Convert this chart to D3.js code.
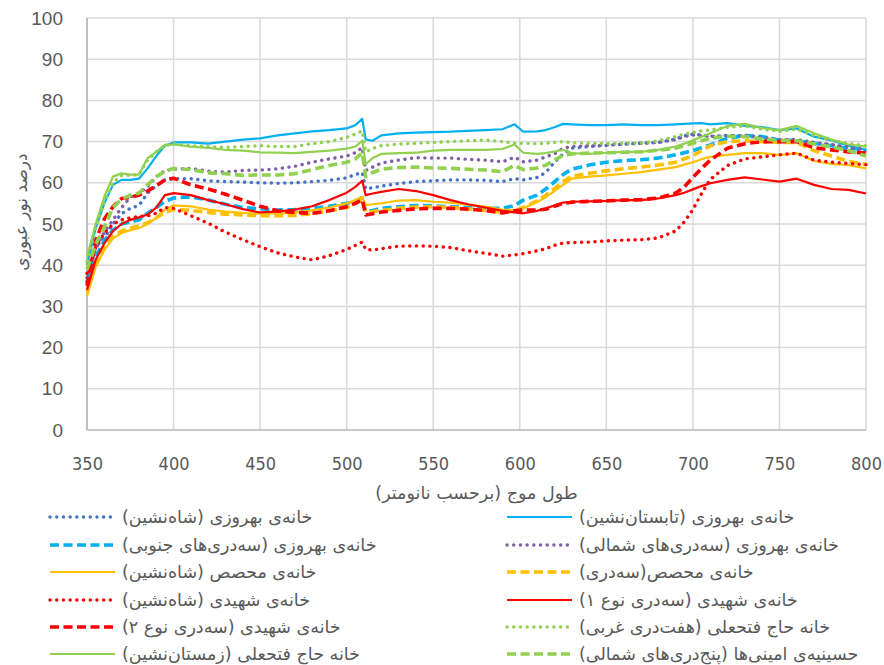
<!DOCTYPE html>
<html>
<head>
<meta charset="utf-8">
<script src="https://cdn.jsdelivr.net/npm/d3@7"></script>
<style>
  body { margin: 0; background: #fff; }
  svg { display: block; }
</style>
</head>
<body>
<div id="chart"></div>
<script>
// wavelengths (nm)
var wavelengths = [350,355,360,365,370,375,380,385,390,395,400,410,420,430,440,450,460,470,480,490,500,505,509,511,515,520,530,540,550,560,570,580,590,597,602,610,615,620,625,630,640,650,660,670,680,690,695,700,705,710,720,730,740,750,760,770,780,790,800];

var xTicks = [350,400,450,500,550,600,650,700,750,800];
var yTicks = [0,10,20,30,40,50,60,70,80,90,100];

var xTitle = "طول موج (برحسب نانومتر)";
var yTitle = "درصد نور عبوری";

var names = [
  "خانه‌ی بهروزی (شاه‌نشین)",
  "خانه‌ی بهروزی (تابستان‌نشین)",
  "خانه‌ی بهروزی (سه‌دری‌های جنوبی)",
  "خانه‌ی بهروزی (سه‌دری‌های شمالی)",
  "خانه‌ی محصص (شاه‌نشین)",
  "خانه‌ی محصص(سه‌دری)",
  "خانه‌ی شهیدی (شاه‌نشین)",
  "خانه‌ی شهیدی (سه‌دری نوع ۱)",
  "خانه‌ی شهیدی (سه‌دری نوع ۲)",
  "خانه حاج فتحعلی (هفت‌دری غربی)",
  "خانه حاج فتحعلی (زمستان‌نشین)",
  "حسینیه‌ی امینی‌ها (پنج‌دری‌های شمالی)"
];

var behrooziShah = [36,44.5,46.5,50,52.5,53.8,54.5,57.5,59.3,60.7,61,61,60.5,60.3,60.2,60,59.9,60,60.3,60.6,61.2,62,62.5,58.5,58.8,59.2,59.8,60.3,60.5,60.7,60.7,60.6,60.3,61,60.7,61.3,62.5,65,67,68.4,68.8,69.1,69.4,69.6,69.8,70.6,71.4,71.8,71.6,71.3,71.5,71.4,70.9,70.4,70.3,69.7,69.2,68.4,67.8];
var behrooziTabestan = [40,49,55,59.5,60.7,60.7,61,63.5,66.5,69,69.8,69.8,69.5,70,70.5,70.8,71.5,72,72.5,72.8,73.2,74,75.5,70.5,70.2,71.5,72,72.2,72.3,72.4,72.6,72.8,73,74.2,72.4,72.5,72.8,73.5,74.3,74.2,74,74,74.2,74,74,74.2,74.3,74.4,74.5,74.2,74.5,73.8,73.5,72.8,73.2,71.2,70.3,69,68];
var behrooziJanubi = [36,42,46,48.5,50,50.5,51,52.6,54,55.5,56.3,56.6,55.8,54.8,54,53.7,53.4,53.5,53.8,54.3,55,55.6,56.4,53,53.3,53.8,54.2,54.5,54.4,54.2,54,53.8,53.8,54.5,55.8,57,58.5,60.2,62,63.3,64.3,65,65.4,65.6,66,66.8,67.3,67.8,68.5,69.2,70.8,71.5,71.2,70.4,70.2,69.6,69,68.2,68.4];
var behrooziShomali = [37,44,48,51,54,56.5,57.5,59,61.5,63,63.3,63.5,62.8,62.6,63,63.1,63.4,64,65,65.8,66.5,67.3,68.5,63,63.8,64.8,65.5,66.1,66,66,65.7,65.5,65.1,66.2,65.1,65.5,66.3,67,68.4,68.8,69,69.2,69.4,69.6,69.8,70.5,71.2,71.6,71.5,71.2,71.4,71.5,71,70.5,70.5,69.8,69.3,68.6,68];
var mohassesShah = [32.5,39.6,43.7,46.5,47.8,48.5,49,50,51.5,53.5,54.5,54.3,53.5,53,52.7,52.5,52.6,52.8,53.3,54,55,55.8,56.6,54.6,54.8,55,55.7,55.8,55.4,55.2,54.7,54.2,53.5,53.4,53.8,55.3,56.5,58,59.5,61,61.5,61.8,62.2,62.6,63.2,63.8,64.4,65,65.7,66.3,66.8,67.2,67.2,66.7,67.2,65.3,64.6,64.3,63.5];
var mohassesSedari = [33.5,40,44,47,48.3,49,49.5,50.3,51.5,52.8,53.5,53.3,52.8,52.4,52.2,52,52,52.1,52.5,53.2,54,55,56,52.8,53,53.3,53.8,54.1,54.2,54,53.7,53.3,52.8,53.2,54,55.6,57,58.6,60.3,61.6,62.3,62.9,63.4,63.8,64.3,65,65.8,66.6,67.8,69,70,70.2,70,69.8,69.8,67.8,66.5,65.2,64.5];
var shahidiShah = [38,44.5,47.8,50,51,51.5,51.8,52,52.6,54,53.8,52,50.2,48,46.2,44.5,43,42,41.3,42.3,43.8,44.8,45.6,43.8,43.7,44,44.6,44.7,44.6,44.3,43.5,42.9,42.2,42.5,42.8,43.5,44,44.8,45.4,45.5,45.6,45.9,46.1,46.2,46.6,48.3,50.5,53.5,57.4,60.8,64.2,65.8,66.3,66.8,67.2,65.5,65,64.7,64.4];
var shahidiSedari1 = [34,41.3,45.3,48.3,50,51,51.6,52.3,54,57,57.5,57,55.8,54.8,53.6,52.8,53,53.5,54.3,55.8,57.6,59,60.5,57,57.4,57.8,58.5,58,57,55.8,54.8,54,53.2,52.8,52.6,53.2,53.8,54.5,55.2,55.4,55.5,55.6,55.8,55.8,56.2,57,57.6,58.4,59.2,59.9,60.7,61.3,60.8,60.3,61,59.5,58.5,58.3,57.4];
var shahidiSedari2 = [35,46,51.2,54.2,56.2,56.5,57,58,59.3,60.7,61.1,59.5,58.5,57.2,55.8,54.3,53.2,52.8,52.6,53.2,54.2,55,55.9,52.2,52.5,52.9,53.3,53.7,53.8,53.8,53.6,53.3,52.7,53.2,53.4,53.4,53.6,54.3,55,55.3,55.5,55.6,55.8,55.9,56.3,57.5,59,61.3,63.5,65.5,68.4,69.5,70,70,70,68.5,68,67.5,67.2];
var hajHaftdari = [41,49,55.5,60,61.8,61.8,62,65.5,67.5,69,69.5,69,68.8,68.6,68.8,69,68.8,68.8,69.5,70,71,71.8,72.6,67.5,68.3,69,69.4,69.6,69.8,70,70.2,70.4,70,69.6,69.6,69.5,69.6,69.8,70,69.7,69.6,69.5,69.6,69.6,70.2,71.2,71.8,72.2,72.6,72.8,73.5,73.8,73,72.5,73,71.5,70.3,69.5,69];
var hajZemestan = [42,50,56.6,61.5,62.3,62,62,66,67.5,69.2,69.3,68.8,68.5,68,67.8,67.4,67.3,67.2,67.5,67.8,68.3,68.8,70.2,64.5,66,67,67.2,67.3,67.8,68,68,68,68.2,69.3,67.3,67,67.2,67.6,68,67.2,67,67.3,67.5,67.5,68,68.8,69.5,70.3,71.2,72,73.8,74.3,73.3,72.8,73.8,72,70.5,69.3,68.8];
var aminiPanjdari = [39,45,49.3,54,56,57,57.5,59.5,61.5,62.8,63.5,63.2,62.4,62.2,61.8,61.9,61.9,62.2,63.2,64.2,65,65.8,67.3,61.5,62.5,63.3,63.7,63.8,63.6,63.5,63.3,63.1,62.7,64.2,63.2,63.6,64.3,65.5,66.7,67,67.2,67.3,67.4,67.5,67.9,68.4,69,69.6,70.2,70.8,71.3,71.2,70.6,70.3,70.2,69.5,68.7,67.8,66.5];

var seriesValues = [behrooziShah, behrooziTabestan, behrooziJanubi, behrooziShomali,
  mohassesShah, mohassesSedari, shahidiShah, shahidiSedari1, shahidiSedari2,
  hajHaftdari, hajZemestan, aminiPanjdari];

// line styles per series
var styles = [
  {color: "#4472C4", kind: "dot"},
  {color: "#00B0F0", kind: "solid"},
  {color: "#00B0F0", kind: "dash"},
  {color: "#7E5FA8", kind: "dot"},
  {color: "#FFC000", kind: "solid"},
  {color: "#FFC000", kind: "dash"},
  {color: "#FF0000", kind: "dot"},
  {color: "#FF0000", kind: "solid"},
  {color: "#FF0000", kind: "dash"},
  {color: "#92D050", kind: "dot"},
  {color: "#92D050", kind: "solid"},
  {color: "#92D050", kind: "dash"}
];

var svgWidth = 884, svgHeight = 665;
var margin = {top: 18, right: 18, bottom: 235, left: 87};
var width = svgWidth - margin.left - margin.right;
var height = svgHeight - margin.top - margin.bottom;

var svg = d3.select("#chart").append("svg")
  .attr("width", svgWidth)
  .attr("height", svgHeight);

var g = svg.append("g")
  .attr("transform", "translate(" + margin.left + "," + margin.top + ")");

var x = d3.scaleLinear().domain([350, 800]).range([0, width]);
var y = d3.scaleLinear().domain([0, 100]).range([height, 0]);

// gridlines
g.append("g")
  .selectAll("line.h")
  .data(yTicks)
  .enter().append("line")
    .attr("x1", 0).attr("x2", width)
    .attr("y1", d => y(d)).attr("y2", d => y(d))
    .attr("stroke", "#D9D9D9").attr("stroke-width", 1.5);

g.append("g")
  .selectAll("line.v")
  .data(xTicks)
  .enter().append("line")
    .attr("x1", d => x(d)).attr("x2", d => x(d))
    .attr("y1", 0).attr("y2", height)
    .attr("stroke", "#D9D9D9").attr("stroke-width", 1.5);

// axis lines
g.append("line")
  .attr("x1", 0).attr("x2", 0).attr("y1", 0).attr("y2", height)
  .attr("stroke", "#BFBFBF").attr("stroke-width", 2);
g.append("line")
  .attr("x1", 0).attr("x2", width).attr("y1", height).attr("y2", height)
  .attr("stroke", "#BFBFBF").attr("stroke-width", 1.5);

// tick labels via d3 axes
var yAxis = g.append("g")
  .call(d3.axisLeft(y).tickValues(yTicks).tickSize(0).tickPadding(24));
yAxis.select(".domain").remove();
yAxis.selectAll("text")
  .attr("fill", "#595959")
  .style("font-family", "'Liberation Sans', Arial, sans-serif")
  .style("font-size", "19px");

var xAxis = g.append("g")
  .attr("transform", "translate(0," + height + ")")
  .call(d3.axisBottom(x).tickValues(xTicks).tickSize(0).tickPadding(27));
xAxis.select(".domain").remove();
xAxis.selectAll("text")
  .attr("fill", "#595959")
  .style("font-family", "'Liberation Sans Narrow', 'DejaVu Sans Condensed', sans-serif")
  .style("font-size", "18px");

// axis titles
svg.append("text")
  .attr("x", margin.left + x(575))
  .attr("y", 499)
  .attr("text-anchor", "middle")
  .attr("direction", "rtl")
  .attr("fill", "#595959")
  .style("font-family", "'DejaVu Sans', sans-serif")
  .style("font-size", "17.5px")
  .text(xTitle);

svg.append("text")
  .attr("transform", "translate(27,212) rotate(-90)")
  .attr("text-anchor", "middle")
  .attr("direction", "rtl")
  .attr("fill", "#595959")
  .style("font-family", "'DejaVu Sans', sans-serif")
  .style("font-size", "17px")
  .text(yTitle);

function applyStyle(sel, st) {
  sel.attr("stroke", st.color).attr("fill", "none");
  if (st.kind === "solid") {
    sel.attr("stroke-width", 2.2);
  } else if (st.kind === "dash") {
    sel.attr("stroke-width", 3.6).attr("stroke-dasharray", "9,4.5");
  } else {
    sel.attr("stroke-width", 3.4).attr("stroke-dasharray", "0.1,6.6")
      .attr("stroke-linecap", "round");
  }
  return sel;
}

var line = d3.line()
  .x((d, i) => x(wavelengths[i]))
  .y(d => y(d));

seriesValues.forEach(function(vals, i) {
  var p = g.append("path")
    .datum(vals)
    .attr("d", line)
    .attr("stroke-linejoin", "round");
  applyStyle(p, styles[i]);
});

// legend, two columns
var legend = svg.append("g");
var rowY = [517, 545, 572, 600, 627, 654];
names.forEach(function(name, i) {
  var col = i % 2, row = Math.floor(i / 2);
  var lx = col === 0 ? 50 : 507;
  var ly = rowY[row];
  var item = legend.append("g");
  var s = item.append("line")
    .attr("x1", lx).attr("x2", lx + 65)
    .attr("y1", ly).attr("y2", ly);
  applyStyle(s, styles[i]);
  item.append("text")
    .attr("x", lx + 72)
    .attr("y", ly + 6)
    .attr("direction", "rtl")
    .attr("text-anchor", "end")
    .attr("fill", "#595959")
    .style("font-family", "'DejaVu Sans', sans-serif")
    .style("font-size", "17.5px")
    .text(name);
});
</script>
</body>
</html>
